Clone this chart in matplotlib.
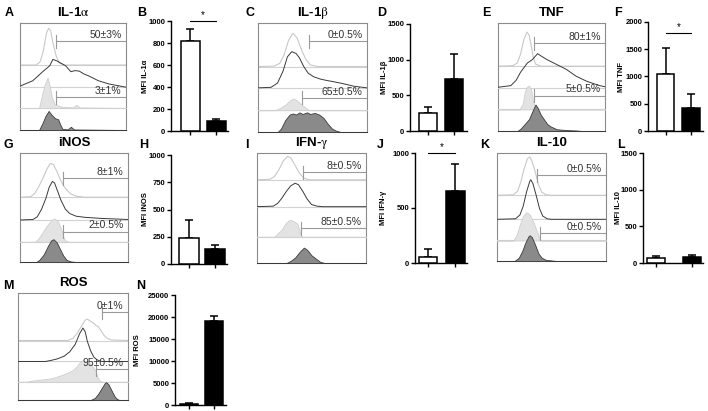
import matplotlib
matplotlib.use("Agg")
import matplotlib.pyplot as plt

plt.rcParams['font.family'] = ['Liberation Sans', 'DejaVu Sans']
plt.rcParams['mathtext.fontset'] = 'stix'

W, H = 708, 411

# ---------------------------------------------------------------------------
# Histogram data (x = channel in % of axis, y = normalised count)
# rows: control line, treated line, control filled, treated filled
# ---------------------------------------------------------------------------
il1a_r1 = [(0, 0), (15, 0), (19, 0.03), (22, 0.13), (25, 0.3), (27, 0.344), (29, 0.32), (31, 0.21),
           (34, 0.09), (37, 0.02), (42, 0), (100, 0)]
il1a_r2 = [(0, 0.01), (12, 0.06), (22, 0.15), (28, 0.2), (31, 0.26), (35, 0.245), (43, 0.2), (48, 0.145),
           (52, 0.155), (56, 0.15), (60, 0.125), (65, 0.105), (74, 0.06), (84, 0.03), (100, 0.0)]
il1a_r3 = [(0, 0), (18, 0), (20, 0.09), (23, 0.21), (26, 0.285), (28, 0.21), (30, 0.1), (33, 0.03),
           (40, 0.01), (50, 0.005), (53, 0.03), (56, 0.005), (100, 0)]
il1a_r4 = [(0, 0), (18, 0), (21, 0.06), (24, 0.13), (27, 0.178), (30, 0.14), (33, 0.11), (36, 0.1),
           (38, 0.05), (40, 0.01), (45, 0.005), (48, 0.03), (51, 0.005), (100, 0)]

il1b_r1 = [(0, 0), (15, 0.005), (20, 0.03), (24, 0.11), (28, 0.24), (32, 0.307), (36, 0.26), (40, 0.15),
           (44, 0.065), (48, 0.015), (55, 0), (100, 0)]
il1b_r2 = [(0, 0.005), (12, 0.01), (18, 0.05), (23, 0.16), (27, 0.29), (31, 0.337), (35, 0.32), (38, 0.28),
           (42, 0.2), (46, 0.14), (51, 0.107), (57, 0.086), (62, 0.075), (70, 0.06), (77, 0.046),
           (88, 0.02), (100, 0.005)]
il1b_r3 = [(0, 0), (16, 0), (20, 0.02), (25, 0.05), (30, 0.095), (33, 0.107), (36, 0.085), (40, 0.05),
           (44, 0.02), (47, 0), (100, 0)]
il1b_r4 = [(0, 0), (18, 0), (21, 0.03), (25, 0.11), (29, 0.16), (32, 0.17), (35, 0.16), (38, 0.18),
           (41, 0.165), (45, 0.18), (48, 0.165), (52, 0.175), (56, 0.16), (60, 0.13), (64, 0.075),
           (68, 0.03), (72, 0.01), (76, 0), (100, 0)]

tnf_r1 = [(0, 0), (14, 0.005), (18, 0.03), (21, 0.11), (24, 0.24), (27, 0.316), (29, 0.29), (31, 0.19),
          (33, 0.085), (35, 0.02), (40, 0), (100, 0)]
tnf_r2 = [(0, 0.005), (12, 0.02), (17, 0.07), (21, 0.143), (27.5, 0.23), (32, 0.26), (37, 0.316), (41, 0.29),
          (46, 0.26), (55, 0.215), (64, 0.17), (73, 0.107), (83, 0.06), (95, 0.02), (100, 0.01)]
tnf_r3 = [(0, 0), (20, 0), (23, 0.05), (25, 0.16), (27, 0.21), (29, 0.22), (31, 0.18), (33, 0.065),
          (35, 0.01), (40, 0), (100, 0)]
tnf_r4 = [(0, 0), (18, 0), (21, 0.02), (25, 0.065), (29, 0.11), (32, 0.18), (35, 0.245), (37, 0.215),
          (40, 0.15), (43, 0.107), (46, 0.065), (49, 0.043), (55, 0.016), (65, 0.008), (73, 0.005),
          (78, 0), (100, 0)]

inos_r1 = [(0, 0), (10, 0.005), (14, 0.04), (18, 0.11), (22, 0.19), (25, 0.26), (28, 0.31), (31, 0.3),
           (34, 0.24), (37, 0.17), (40, 0.11), (43, 0.07), (47, 0.03), (52, 0.01), (60, 0), (100, 0)]
inos_r2 = [(0, 0), (12, 0.005), (16, 0.03), (20, 0.1), (24, 0.2), (27, 0.3), (30, 0.354), (32, 0.34),
           (35, 0.26), (38, 0.18), (42, 0.1), (46, 0.06), (52, 0.035), (60, 0.025), (75, 0.015), (100, 0.005)]
inos_r3 = [(0, 0), (14, 0), (17, 0.03), (21, 0.09), (25, 0.15), (29, 0.2), (32, 0.215), (35, 0.19),
           (38, 0.12), (40, 0.05), (42, 0.01), (45, 0), (100, 0)]
inos_r4 = [(0, 0), (15, 0), (18, 0.02), (22, 0.07), (26, 0.15), (29, 0.2), (31, 0.209), (34, 0.18),
           (37, 0.12), (40, 0.06), (43, 0.02), (47, 0.005), (52, 0), (100, 0)]

ifng_r1 = [(0, 0), (12, 0.005), (16, 0.03), (20, 0.09), (24, 0.17), (28, 0.213), (31, 0.2), (35, 0.13),
           (39, 0.06), (43, 0.015), (48, 0), (100, 0)]
ifng_r2 = [(0, 0), (15, 0.005), (19, 0.03), (23, 0.08), (27, 0.14), (31, 0.19), (35, 0.213), (38, 0.2),
           (42, 0.14), (46, 0.07), (50, 0.02), (55, 0.005), (60, 0), (100, 0)]
ifng_r3 = [(0, 0), (16, 0), (19, 0.03), (23, 0.07), (26, 0.12), (29, 0.15), (31, 0.152), (34, 0.14),
           (37, 0.12), (39, 0.06), (40.5, 0.01), (42, 0), (100, 0)]
ifng_r4 = [(0, 0), (27, 0), (31, 0.02), (35, 0.05), (39, 0.1), (43, 0.14), (46, 0.12), (50, 0.07),
           (54, 0.04), (58, 0.01), (62, 0), (100, 0)]

il10_r1 = [(0, 0), (15, 0.005), (19, 0.04), (22, 0.13), (25, 0.25), (28, 0.34), (30, 0.355), (32, 0.32),
           (35, 0.22), (38, 0.1), (41, 0.03), (45, 0.005), (50, 0), (100, 0)]
il10_r2 = [(0, 0), (17, 0.005), (21, 0.04), (24, 0.12), (27, 0.25), (30, 0.35), (31, 0.367), (33, 0.33),
           (36, 0.22), (39, 0.1), (42, 0.03), (46, 0.005), (50, 0), (100, 0)]
il10_r3 = [(0, 0), (15, 0), (18, 0.05), (21, 0.15), (24, 0.23), (27, 0.262), (30, 0.24), (33, 0.18),
           (36, 0.1), (38, 0.05), (39, 0.01), (41, 0), (100, 0)]
il10_r4 = [(0, 0), (16, 0), (20, 0.03), (23, 0.09), (26, 0.17), (29, 0.23), (30, 0.238), (32, 0.22),
           (35, 0.15), (38, 0.07), (41, 0.03), (45, 0.01), (50, 0.005), (55, 0), (100, 0)]

ros_r1 = [(0, 0), (45, 0), (50, 0.02), (54, 0.07), (58, 0.14), (61, 0.19), (63, 0.2), (66, 0.18),
          (69, 0.16), (71, 0.14), (73, 0.13), (75, 0.1), (78, 0.05), (81, 0.02), (85, 0.005), (100, 0)]
ros_r2 = [(0, 0), (25, 0), (30, 0.01), (36, 0.025), (42, 0.05), (47, 0.09), (52, 0.16), (56, 0.26),
          (59, 0.3125), (61, 0.28), (63, 0.19), (66, 0.1), (69, 0.04), (72, 0.015), (76, 0), (100, 0)]
ros_r3 = [(0, 0), (8, 0), (12, 0.01), (20, 0.02), (29, 0.03), (36, 0.05), (44, 0.08), (50, 0.11),
          (53, 0.14), (56, 0.18), (59, 0.2), (62, 0.19), (66, 0.17), (70, 0.11), (73, 0.03), (75, 0.005),
          (78, 0), (100, 0)]
ros_r4 = [(0, 0), (66, 0), (70, 0.02), (73, 0.06), (76, 0.11), (79, 0.16), (80, 0.166), (82, 0.15),
          (84, 0.11), (86, 0.07), (88, 0.03), (90, 0.01), (92, 0), (100, 0)]

# gate thresholds and percentages (top gate, bottom gate)
gate_x = {'A': (34, 34), 'C': (47, 40), 'E': (34, 34), 'G': (40, 40), 'I': (42, 40), 'K': (37, 39), 'M': (76, 71)}
gate_text = {'A': ('50±3%', '3±1%'), 'C': ('0±0.5%', '65±0.5%'), 'E': ('80±1%', '5±0.5%'),
             'G': ('8±1%', '2±0.5%'), 'I': ('8±0.5%', '85±0.5%'), 'K': ('0±0.5%', '0±0.5%'),
             'M': ('0±1%', '95±0.5%')}

# ---------------------------------------------------------------------------
# MFI bar data: mean, mean + SD  (white = control, black = treated)
# ---------------------------------------------------------------------------
mfi_il1a = [815, 92]
mfi_il1a_top = [930, 108]
mfi_il1b = [248, 724]
mfi_il1b_top = [341, 1079]
mfi_tnf = [1055, 415]
mfi_tnf_top = [1530, 671]
mfi_inos = [235, 140]
mfi_inos_top = [405, 177]
mfi_ifng = [52, 652]
mfi_ifng_top = [130, 903]
mfi_il10 = [68, 82]
mfi_il10_top = [100, 114]
mfi_ros = [300, 19090]
mfi_ros_top = [450, 20230]

fig = plt.figure(figsize=(W / 100, H / 100), dpi=100)


def px_axes(l, t, r, b):
    return fig.add_axes([l / W, 1 - b / H, (r - l) / W, (b - t) / H])


def histo(box, curves, bases, gates_y, key, title):
    l, t, r, b = box
    ax = px_axes(l, t, r, b)
    sep = '#d2d2d2'
    for i, (curve, base) in enumerate(zip(curves, bases)):
        xs = [p[0] for p in curve]
        ys = [base + p[1] for p in curve]
        if base > 0:
            ax.plot([0, 100], [base, base], color=sep, lw=0.8, zorder=1 + i * 2)
        if i == 0:
            ax.plot(xs, ys, color='#c8c8c8', lw=0.8, zorder=2 + i * 2)
        elif i == 1:
            ax.plot(xs, ys, color='#3a3a3a', lw=0.7, zorder=2 + i * 2)
        elif i == 2:
            ax.fill_between(xs, base, ys, facecolor='#e3e3e3', edgecolor='#cfcfcf', lw=0.6, zorder=2 + i * 2)
        else:
            ax.fill_between(xs, base, ys, facecolor='#8a8a8a', edgecolor='#3a3a3a', lw=0.6, zorder=2 + i * 2)
    for gx, gy, txt in zip(gate_x[key], gates_y, gate_text[key]):
        ax.plot([gx, gx], [gy - 0.06, gy + 0.06], color='#9a9a9a', lw=0.8, zorder=20)
        ax.plot([gx, 100], [gy, gy], color='#9a9a9a', lw=0.8, zorder=20)
        ax.text(96, gy + 0.012, txt, ha='right', va='bottom', fontsize=7.5, color='#333333', zorder=21)
    ax.set_xlim(0, 100)
    ax.set_ylim(0, 1)
    ax.set_xticks([])
    ax.set_yticks([])
    for s in ax.spines.values():
        s.set_color('#8c8c8c')
        s.set_linewidth(0.8)
    fig.text((l + r) / 2 / W, 1 - (t - 10) / H, title, ha='center', va='center',
             fontsize=9.5, fontweight='bold')
    return ax


def bars(box, xlim, width, means, tops, ymax, yticks, ylabel, lab_off, sig=None):
    l, t, r, b = box
    ax = px_axes(l, t, r, b)
    pos = [0, 1]
    ax.bar(pos, means, width=width, color=['white', 'black'], edgecolor='black', lw=1.1, zorder=3)
    for p, m, tp in zip(pos, means, tops):
        ax.errorbar(p, m, yerr=[[0], [tp - m]], color='black', lw=1.1, capsize=3, capthick=1.1, zorder=2)
    ax.set_xlim(*xlim)
    ax.set_ylim(0, ymax)
    ax.set_yticks(yticks)
    ax.set_xticks(pos)
    ax.set_xticklabels([])
    ax.tick_params(axis='both', length=3, width=1, pad=1, labelsize=5.5)
    for lab in ax.get_yticklabels():
        lab.set_fontweight('bold')
    ax.spines['top'].set_visible(False)
    ax.spines['right'].set_visible(False)
    ax.spines['left'].set_linewidth(1)
    ax.spines['bottom'].set_linewidth(1)
    ax.set_ylabel(ylabel, fontsize=5.5, fontweight='bold')
    ax.yaxis.set_label_coords(-lab_off / (r - l), 0.5)
    if sig is not None:
        ax.plot([0, 1], [sig, sig], color='black', lw=0.8, clip_on=False)
        ax.text(0.5, sig + ymax * 0.01, '*', ha='center', va='bottom', fontsize=7, clip_on=False)
    return ax


def letter(x, y, s):
    fig.text(x / W, 1 - y / H, s, ha='center', va='center', fontsize=9, fontweight='bold')


# Row 1
histo((20, 23, 126, 130), [il1a_r1, il1a_r2, il1a_r3, il1a_r4], [0.607, 0.4, 0.206, 0],
      (0.83, 0.307), 'A', r'IL-1$\mathrm{\alpha}$')
bars((171, 21, 228, 131), (-0.73, 1.46), 0.73, mfi_il1a, mfi_il1a_top, 1000,
     [0, 200, 400, 600, 800, 1000], 'MFI IL-1α', 22, sig=1000)
histo((258, 23, 367, 132), [il1b_r1, il1b_r2, il1b_r3, il1b_r4], [0.6, 0.4, 0.2, 0],
      (0.834, 0.313), 'C', r'IL-1$\mathrm{\beta}$')
bars((410, 24, 467, 131), (-0.69, 1.5), 0.7, mfi_il1b, mfi_il1b_top, 1500,
     [0, 500, 1000, 1500], 'MFI IL-1β', 22)
histo((498, 23, 605, 131), [tnf_r1, tnf_r2, tnf_r3, tnf_r4], [0.6, 0.4, 0.2, 0],
      (0.813, 0.328), 'E', 'TNF')
bars((648, 22, 703, 131), (-0.69, 1.47), 0.7, mfi_tnf, mfi_tnf_top, 2000,
     [0, 500, 1000, 1500, 2000], 'MFI TNF', 23, sig=1800)

# Row 2
histo((20, 153, 128, 262), [inos_r1, inos_r2, inos_r3, inos_r4], [0.594, 0.385, 0.185, 0],
      (0.77, 0.277), 'G', 'iNOS')
bars((171, 155, 227, 264), (-0.69, 1.46), 0.75, mfi_inos, mfi_inos_top, 1000,
     [0, 250, 500, 750, 1000], 'MFI iNOS', 22)
histo((257, 153, 366, 263), [ifng_r1, ifng_r2, ifng_r3, ifng_r4], [0.756, 0.512, 0.238, 0],
      (0.826, 0.314), 'I', r'IFN-$\mathrm{\gamma}$')
bars((415, 153, 467, 263), (-0.47, 1.42), 0.67, mfi_ifng, mfi_ifng_top, 1000,
     [0, 500, 1000], 'MFI IFN-γ', 28, sig=1000)
histo((497, 153, 606, 261), [il10_r1, il10_r2, il10_r3, il10_r4], [0.608, 0.386, 0.19, 0],
      (0.793, 0.259), 'K', 'IL-10')
bars((643, 153, 703, 263), (-0.36, 1.31), 0.5, mfi_il10, mfi_il10_top, 1500,
     [0, 500, 1000, 1500], 'MFI IL-10', 21.5)

# Row 3
histo((18, 293, 128, 400), [ros_r1, ros_r2, ros_r3, ros_r4], [0.556, 0.36, 0.17, 0],
      (0.82, 0.2875), 'M', 'ROS')
bars((175, 295, 226, 405), (-0.56, 1.48), 0.72, mfi_ros, mfi_ros_top, 25000,
     [0, 5000, 10000, 15000, 20000, 25000], 'MFI ROS', 34)

for x, y, s in [(9, 13, 'A'), (142, 13, 'B'), (250, 13, 'C'), (382, 13, 'D'), (486, 13, 'E'), (618, 13, 'F'),
                (8, 145, 'G'), (144, 145, 'H'), (247, 145, 'I'), (380, 145, 'J'), (485, 145, 'K'),
                (621, 145, 'L'), (8, 286, 'M'), (141, 286, 'N')]:
    letter(x, y, s)

fig.savefig('out.png', dpi=100, facecolor='white')
